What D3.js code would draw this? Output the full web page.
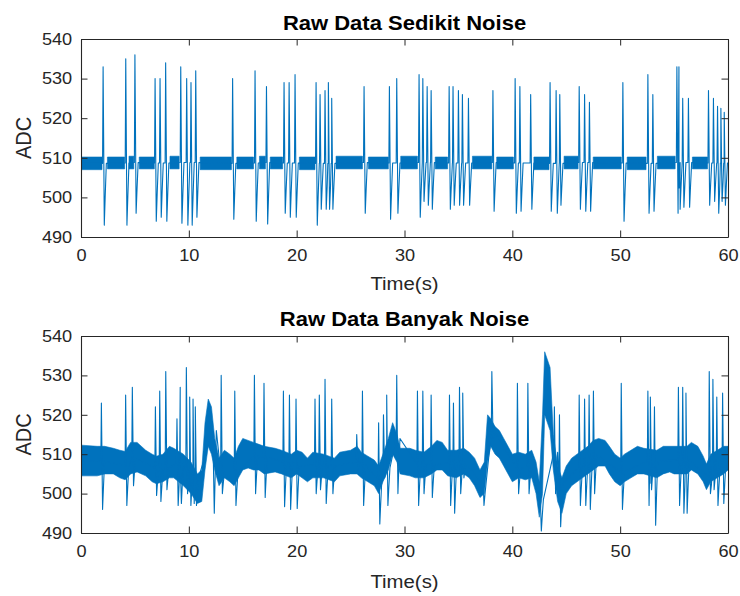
<!DOCTYPE html>
<meta charset="utf-8">
<style>

body {
  margin: 0;
  background: #fff;
}

text {
  font-family: "Liberation Sans", Arial, sans-serif;
  fill: #262626;
}

.title {
  font-weight: bold;
  fill: #000;
}

.band {
  fill: #0072bd;
  stroke: #0072bd;
  stroke-width: 0.6px;
}

.sig {
  fill: none;
  stroke: #0072bd;
  stroke-width: 1.1px;
  stroke-linejoin: round;
}

</style>
<svg width="740" height="596"></svg>
<script src="https://d3js.org/d3.v7.min.js"></script>
<script>

var xDomain = [0, 60],
    yDomain = [490, 540],
    xTicks = [0, 10, 20, 30, 40, 50, 60],
    yTicks = [490, 500, 510, 520, 530, 540],
    titles = ["Raw Data Sedikit Noise", "Raw Data Banyak Noise"],
    xLabel = "Time(s)",
    yLabel = "ADC";

// --- panel 1 : sedikit noise ---
// spikes : time, peak, trough
var spikeT1 = [2.05, 4.15, 5.0, 6.87, 7.33, 7.85, 9.25, 9.8, 10.2, 10.64, 14.06, 16.14, 17.2, 18.83, 19.3, 19.85,
  21.8, 22.17, 22.63, 22.94, 23.25, 26.25, 28.6, 29.28, 31.35, 31.7, 32.1, 32.47, 34.14, 34.5, 35.0, 35.37, 35.93,
  38.2, 40.26, 40.7, 41.7, 43.5, 44.06, 44.4, 46.2, 46.7, 47.15, 50.25, 52.57, 53.03, 55.26, 55.45, 55.8, 56.33,
  58.19, 58.65, 59.03, 59.34, 59.65];
var spikeHi1 = [533, 535, 536, 530, 530, 534, 533, 530, 529, 532, 530, 532, 528, 529, 529, 531,
  529, 526, 527, 529, 525, 528, 528, 530, 531, 530, 528, 527, 528, 528, 527, 526, 525,
  527, 530, 528, 526, 529, 527, 526, 528, 526, 524, 529, 531, 526, 533, 533, 525, 525,
  527, 525, 523, 522.5, 521.5];
var spikeLo1 = [493, 493, 496, 494, 495, 494, 493.5, 493, 493, 495, 494.5, 494, 493.3, 496, 495, 495,
  493, 497, 497, 497, 497, 496, 494.5, 496, 495, 499, 498, 497, 497, 498, 498, 498, 498,
  496.5, 496, 496.5, 497, 496.5, 496, 498, 497, 496.5, 496.5, 494, 496, 496.5, 496, 497, 497.5, 497.5,
  498, 499, 496, 499, 498];
// stretches where the noise band is visible
var bandFrom1 = [0, 2.45, 4.45, 5.4, 8.25, 11.05, 14.45, 16.55, 17.55, 20.25, 23.65, 26.65, 29.65, 32.85, 36.3, 38.55, 42.0, 44.8, 47.5, 50.65, 53.45, 56.7];
var bandTo1 = [1.95, 4.05, 4.9, 6.8, 9.1, 13.95, 16.0, 17.1, 18.7, 21.7, 26.1, 28.5, 31.2, 34.0, 38.1, 40.1, 43.4, 46.1, 50.1, 52.4, 55.1, 58.1];
var bandLo1 = [507, 507.2, 507.2, 507.2, 507.2, 507, 507.2, 507.2, 507.2, 507, 507.2, 507.2, 507.2, 507.2, 507.2, 507.2, 507, 507.2, 507.2, 507, 507.2, 507.2];
var bandHi1 = [510.2, 510.2, 510.4, 510.2, 510.4, 510.2, 510.2, 510.4, 510.2, 510.2, 510.4, 510.2, 510.4, 510.2, 510.4, 510.2, 510.2, 510.4, 510.2, 510.2, 510.4, 510.2];

// --- panel 2 : banyak noise ---
var spikeT2 = [1.89, 4.14, 4.76, 6.9, 7.3, 7.86, 8.9, 9.2, 9.77, 10.08, 10.39, 10.6, 12.25, 13.0, 14.26,
  16.08, 16.97, 18.77, 19.33, 19.94, 21.7, 22.1, 22.63, 23.25, 25.57, 26.1, 27.6, 28.05, 28.35, 29.28,
  31.2, 31.7, 32.47, 34.17, 34.54, 35.1, 35.4, 37.26, 38.1, 40.47, 41.44, 42.58, 43.9, 44.37,
  46.2, 46.7, 47.12, 47.52, 50.1, 52.57, 52.8, 53.18, 55.4, 55.8, 56.1, 58.26, 58.6, 58.96, 59.5];
var spikeHi2 = [523, 525, 527, 522, 526, 531, 519, 527, 532, 524.5, 524, 522, 512, 530, 526,
  530, 528, 526, 525, 524, 524, 525, 529, 524, 515, 526, 518, 520, 525, 530,
  526, 526, 525, 525, 523, 527, 525.5, 506, 531, 528, 528, 500, 522, 520,
  525, 524, 525, 526, 528, 526, 524.5, 522, 527, 527, 525.5, 531, 529, 524.5, 525.5];
var spikeLo2 = [496, 497, 502, 499.5, 498, 501, 497, 497.5, 500, 497, 497.5, 497, 495, 500, 497,
  500, 499, 496.7, 496, 496.2, 500, 501, 497.5, 500, 506, 497, 492.3, 504, 497, 500,
  497, 500, 499, 497, 495, 500, 504, 497, 514, 500, 500, 490.5, 500, 491.6,
  497, 497, 496, 500, 496, 497, 501, 492, 497, 495, 495, 500, 501, 497, 497.5];
// envelope of the noise band
var bandT2 = [0, 1.5, 2.2, 3.0, 3.6, 4.1, 4.6, 5.2, 6.0, 6.6, 7.0, 7.6, 8.2, 8.6, 9.5, 10.2, 10.8, 11.2, 11.5, 11.8,
  12.1, 12.4, 12.8, 13.3, 13.8, 14.2, 14.6, 15.0, 15.5, 16.0, 16.5, 17.0, 18.0, 18.6, 19.5, 20.0, 20.5, 21.0, 21.5,
  22.5, 23.5, 24.0, 25.0, 25.6, 26.0, 26.6, 27.2, 27.6, 28.0, 28.5, 28.9, 29.3, 29.6, 30.5, 31.0, 31.8, 32.5, 33.0,
  33.5, 34.0, 34.8, 35.5, 36.0, 36.5, 37.0, 37.4, 37.7, 38.0, 38.4, 38.8, 39.2, 39.6, 40.0, 40.6, 41.2, 41.8, 42.2,
  42.5, 42.8, 43.0, 43.5, 43.8, 44.2, 44.6, 45.0, 45.5, 46.0, 46.5, 47.0, 47.5, 48.0, 48.6, 49.0, 49.5, 50.0, 50.4,
  51.0, 51.6, 52.2, 53.4, 54.0, 54.6, 55.0, 56.2, 56.6, 57.2, 57.7, 58.0, 58.4, 59.0, 59.6, 60];
var bandLo2 = [504.5, 504.5, 505, 505, 504, 503.5, 505, 505.5, 504.5, 503, 502.5, 503, 504, 504, 502, 500, 497.5, 498, 506, 512,
  510, 506, 502, 504, 503, 502, 504, 506, 506.5, 506, 506, 505, 505.5, 505, 504, 505, 504, 503, 504,
  504, 503, 504.5, 505, 505, 504, 503, 502, 500, 503, 506, 510, 508, 505, 504.5, 504, 504, 505, 506,
  506, 504.5, 504, 505, 504, 502, 499, 500, 508, 512, 510, 509, 507, 505, 503, 504, 503.5, 504, 500,
  494, 500, 520, 516, 506, 498, 495, 500, 502, 503, 504, 505, 506, 507, 507, 505, 503, 502, 503,
  504, 505, 505, 504, 505, 505.5, 505, 505, 506, 505, 503, 501, 503, 504, 505, 506];
var bandHi2 = [512.3, 512, 512, 511.5, 511, 510.7, 513, 513, 511, 510, 509.5, 510, 512, 511.5, 510, 508, 505, 506, 518, 524,
  522, 514, 509, 511, 510, 509, 512, 514, 513.5, 513, 512.5, 512, 511.5, 511, 510, 511, 510.5, 509, 510.5,
  510, 509, 510.5, 511, 512, 510.5, 509.5, 508.5, 507, 510, 514, 518, 515, 511.5, 511.5, 511, 510.5, 512, 513.5,
  513, 511, 511, 511.5, 510.5, 509, 506, 508, 520, 519, 517, 516, 514, 512, 510, 510.5, 510, 511, 508,
  503, 520, 536, 532, 515, 507, 504, 507, 509, 510, 511, 512, 513.5, 514, 513.5, 512, 510, 509, 510,
  511, 512, 511.5, 511, 512, 512, 512, 512, 513, 512, 509.5, 507.5, 510, 511, 512, 512];

var svg = d3.select("svg"),
    sx = 1.1,           // glyphs in the picture are a bit wider than tall
    left = 81, right = 728;

var x = d3.scaleLinear().domain(xDomain).range([left, right]);

var panels = [
  { top: 39, bottom: 237, title: titles[0], titleY: 30, labelY: 290,
    spikeT: spikeT1, spikeHi: spikeHi1, spikeLo: spikeLo1,
    bands: bandFrom1.map(function(f, i) {
      return [{ t: f, lo: bandLo1[i], hi: bandHi1[i] }, { t: bandTo1[i], lo: bandLo1[i], hi: bandHi1[i] }];
    }) },
  { top: 336, bottom: 533, title: titles[1], titleY: 326, labelY: 588,
    spikeT: spikeT2, spikeHi: spikeHi2, spikeLo: spikeLo2,
    bands: [bandT2.map(function(t, i) { return { t: t, lo: bandLo2[i], hi: bandHi2[i] }; })] }
];

panels.forEach(function(p, k) {
  var g = svg.append("g");
  var y = d3.scaleLinear().domain(yDomain).range([p.bottom, p.top]);

  // level the trace sits on between spikes
  var allBand = [].concat.apply([], p.bands);
  var base = function(t) {
    var best = allBand[0];
    allBand.forEach(function(b) { if (b.t <= t) best = b; });
    return (best.lo + best.hi) / 2;
  };

  g.append("clipPath").attr("id", "clip" + k)
    .append("rect")
      .attr("x", left).attr("y", p.top)
      .attr("width", right - left).attr("height", p.bottom - p.top);

  var plot = g.append("g").attr("clip-path", "url(#clip" + k + ")");

  var area = d3.area()
      .x(function(d) { return x(d.t); })
      .y0(function(d) { return y(d.lo); })
      .y1(function(d) { return y(d.hi); });

  plot.selectAll(".band")
    .data(p.bands)
    .enter().append("path")
      .attr("class", "band")
      .attr("d", area);

  // each spike: up stroke, down stroke, slow return
  var pts = [{ t: 0, v: base(0) }];
  p.spikeT.forEach(function(t, i) {
    var b = base(t);
    pts.push({ t: t - 0.05, v: b }, { t: t, v: p.spikeHi[i] }, { t: t + 0.11, v: p.spikeLo[i] },
             { t: t + 0.2, v: (p.spikeLo[i] + b) / 2 }, { t: t + 0.3, v: b });
  });
  pts.push({ t: 60, v: base(60) });
  pts.sort(function(a, b) { return a.t - b.t; });

  var line = d3.line()
      .x(function(d) { return x(d.t); })
      .y(function(d) { return y(d.v); });

  plot.append("path")
      .datum(pts)
      .attr("class", "sig")
      .attr("d", line);

  // axes, box style with inward ticks
  function style(a) {
    a.attr("color", "#262626").attr("font-size", 16.5).attr("font-family", null);
    a.select(".domain").attr("stroke-width", 1.1);
    a.selectAll("text").attr("transform", "scale(" + sx + ",1)");
  }

  g.append("g")
      .attr("transform", "translate(0," + p.bottom + ")")
      .call(d3.axisBottom(x).tickValues(xTicks).tickSizeInner(-6.5).tickSizeOuter(0).tickPadding(12))
      .call(style);
  g.append("g")
      .attr("transform", "translate(0," + p.top + ")")
      .call(d3.axisTop(x).tickValues(xTicks).tickSizeInner(-6.5).tickSizeOuter(0).tickFormat(""))
      .call(style);
  g.append("g")
      .attr("transform", "translate(" + left + ",0)")
      .call(d3.axisLeft(y).tickValues(yTicks).tickSizeInner(-6.5).tickSizeOuter(0).tickPadding(8))
      .call(style);
  g.append("g")
      .attr("transform", "translate(" + right + ",0)")
      .call(d3.axisRight(y).tickValues(yTicks).tickSizeInner(-6.5).tickSizeOuter(0).tickFormat(""))
      .call(style);

  g.append("text")
      .attr("class", "title")
      .attr("text-anchor", "middle")
      .attr("font-size", 20)
      .attr("transform", "translate(" + (left + right) / 2 + "," + p.titleY + ") scale(" + sx + ",1)")
      .text(p.title);

  g.append("text")
      .attr("text-anchor", "middle")
      .attr("font-size", 18.5)
      .attr("transform", "translate(" + (left + right) / 2 + "," + p.labelY + ") scale(" + sx + ",1)")
      .text(xLabel);

  g.append("text")
      .attr("text-anchor", "middle")
      .attr("font-size", 20)
      .attr("transform", "translate(31," + (p.top + p.bottom) / 2 + ") scale(" + sx + ",1) rotate(-90)")
      .text(yLabel);
});

</script>
